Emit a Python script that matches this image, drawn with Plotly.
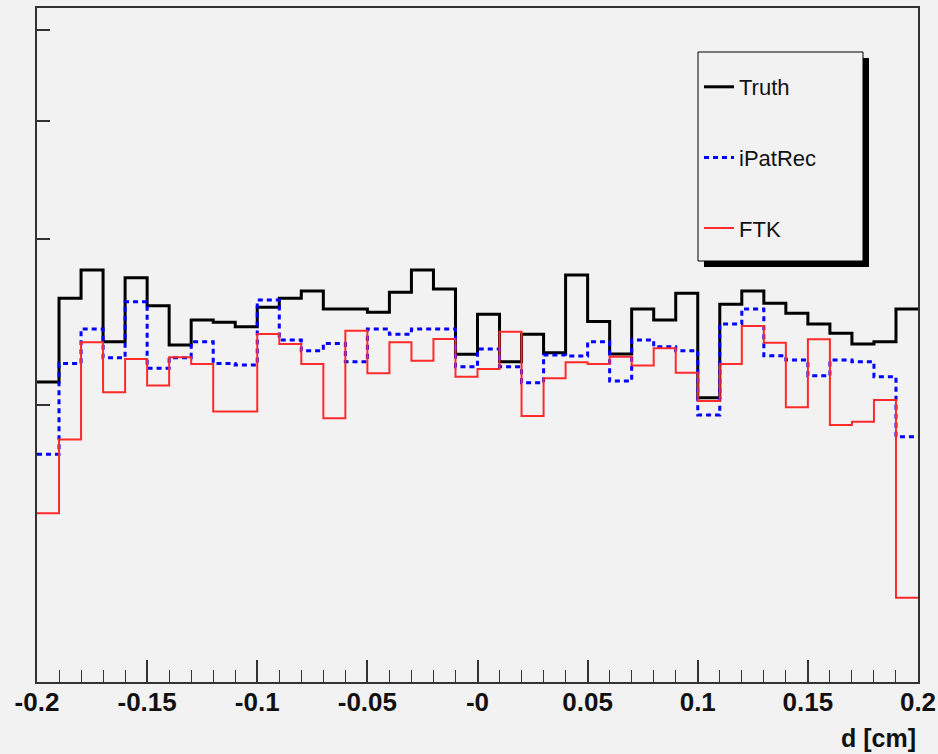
import numpy as np
import plotly.graph_objects as go

# 40 bins from -0.2 to 0.2 cm
bin_edges = [round(-0.2 + 0.01 * i, 4) for i in range(41)]

truth = [211.6, 259.6, 278.2, 233.4, 273.0, 254.9, 231.6, 246.2, 244.8, 242.2,
         253.9, 259.6, 264.2, 252.9, 252.9, 250.8, 263.4, 278.2, 265.5, 226.4,
         249.6, 222.3, 237.7, 227.3, 274.8, 245.2, 226.5, 252.9, 246.2, 262.8,
         203.6, 255.8, 264.2, 256.4, 250.2, 243.8, 238.3, 232.1, 233.4, 252.9]

ipatrec = [177.3, 221.4, 240.8, 224.5, 257.4, 218.8, 224.5, 233.4, 221.4, 220.5,
           258.5, 234.4, 228.4, 232.5, 222.3, 240.8, 237.7, 240.8, 240.8, 219.6,
           229.3, 219.6, 211.2, 226.0, 225.4, 233.4, 212.1, 234.4, 230.6, 228.4,
           195.2, 243.8, 252.9, 225.6, 223.2, 214.8, 223.2, 222.3, 214.3, 185.1]

ftk = [153.5, 183.8, 233.1, 206.3, 223.8, 209.7, 224.7, 221.1, 196.8, 196.8,
       237.9, 232.1, 221.1, 193.6, 239.8, 216.1, 233.1, 222.9, 235.0, 214.3,
       218.4, 239.2, 194.7, 213.5, 222.0, 221.1, 225.0, 220.2, 229.7, 216.4,
       202.0, 221.1, 242.6, 232.9, 198.9, 234.8, 190.5, 192.0, 202.5, 124.9]

x_tickvals = [-0.2, -0.15, -0.1, -0.05, 0.0, 0.05, 0.1, 0.15, 0.2]
x_ticktext = ["-0.2", "-0.15", "-0.1", "-0.05", "-0", "0.05", "0.1", "0.15", "0.2"]
y_tickvals = [200, 300, 400, 500]

BG = "#f2f2f2"
W, H = 938, 754
ML, MR, MT, MB = 37, 20, 8, 72
PW, PH = W - ML - MR, H - MT - MB


def px_to_paper(xp, yp):
    return (xp - ML) / PW, (H - MB - yp) / PH


fig = go.Figure()

series = [
    ("Truth", truth, dict(color="black", width=3)),
    ("iPatRec", ipatrec, dict(color="#0000ff", width=3, dash="5px,4px")),
    ("FTK", ftk, dict(color="#ff2a2a", width=2)),
]
for i, (name, vals, line) in enumerate(series):
    fig.add_trace(go.Scatter(
        x=bin_edges, y=list(vals) + [vals[-1]], mode="lines", name=name,
        line=dict(shape="hv", **line), legendgroup=f"g{i}",
    ))

# legend box with shadow
lx0, ly0, lx1, ly1 = 698, 52, 863, 261
sh = 6
a0 = px_to_paper(lx0 + sh, ly1 + sh)
a1 = px_to_paper(lx1 + sh, ly0 + sh)
b0 = px_to_paper(lx0, ly1)
b1 = px_to_paper(lx1, ly0)
fig.add_shape(type="rect", xref="paper", yref="paper", x0=a0[0], y0=a0[1], x1=a1[0], y1=a1[1],
              fillcolor="black", line=dict(width=0), layer="above")
fig.add_shape(type="rect", xref="paper", yref="paper", x0=b0[0], y0=b0[1], x1=b1[0], y1=b1[1],
              fillcolor=BG, line=dict(color="black", width=1), layer="above")

lgx, lgy = px_to_paper(lx0 + 1, ly0 + 14)
fig.update_layout(
    width=W, height=H,
    paper_bgcolor=BG, plot_bgcolor=BG,
    margin=dict(l=ML, r=MR, t=MT, b=MB, autoexpand=False),
    showlegend=True,
    legend=dict(x=lgx, y=lgy, xanchor="left", yanchor="top",
                bgcolor="rgba(0,0,0,0)", borderwidth=0,
                font=dict(family="Liberation Sans", size=22, color="#111"),
                tracegroupgap=39, itemwidth=30),
    xaxis=dict(range=[-0.2, 0.2], tickvals=x_tickvals, ticktext=x_ticktext,
               automargin=False, ticklabelstandoff=-4,
               ticks="inside", ticklen=22, tickwidth=1.5, tickcolor="#333",
               minor=dict(dtick=0.01, ticks="inside", ticklen=12, tickwidth=1.2, tickcolor="#333"),
               showgrid=False, zeroline=False, showline=True, linecolor="#333", linewidth=2,
               mirror=True,
               tickfont=dict(family="Liberation Sans", size=26, color="#111", weight="bold")),
    yaxis=dict(type="log", range=[2.0071, 2.7223], tickvals=y_tickvals,
               automargin=False,
               showticklabels=False, ticks="inside", ticklen=13, tickwidth=1.5, tickcolor="#333",
               showgrid=False, zeroline=False, showline=True, linecolor="#333", linewidth=2,
               mirror=True),
)

tx, ty = px_to_paper(918, 738)
fig.add_annotation(text="d [cm]", xref="paper", yref="paper", x=tx, y=ty,
                   xanchor="right", yanchor="middle", showarrow=False,
                   font=dict(family="Liberation Sans", size=25, color="#111", weight="bold"))

fig.write_html("out.html")
